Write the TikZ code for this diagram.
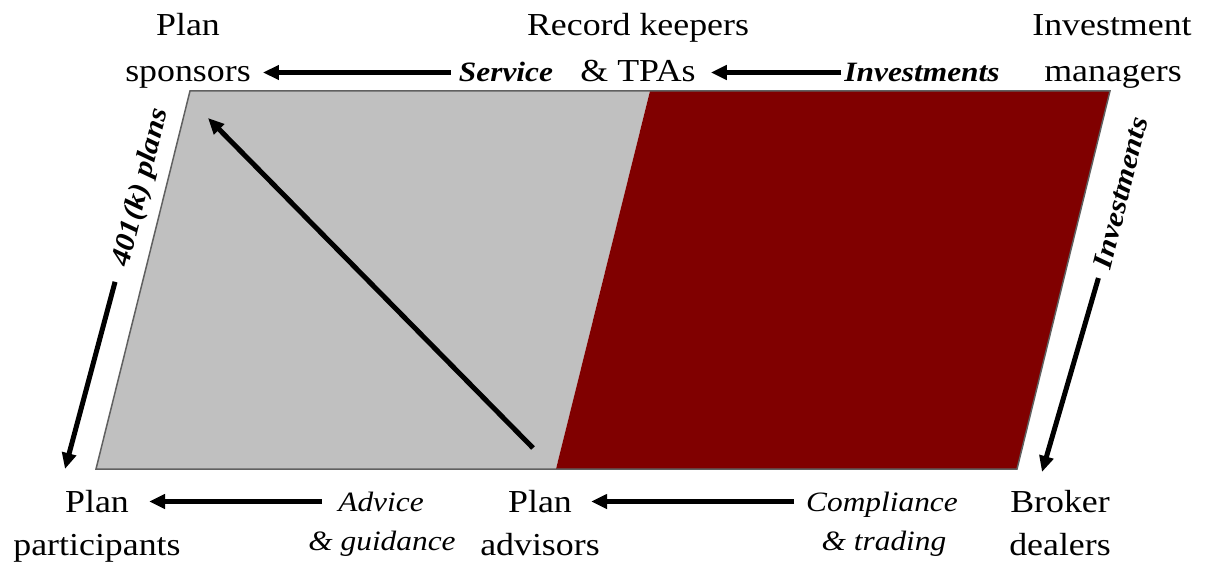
\documentclass[tikz,border=0pt]{standalone}
\usepackage{fontspec}
\setmainfont{Liberation Serif}[FakeStretch=1.12]
\usetikzlibrary{arrows.meta}
\definecolor{plangray}{HTML}{C0C0C0}
\definecolor{mgrred}{HTML}{800000}
\definecolor{edgegray}{HTML}{606060}

\begin{document}
\begin{tikzpicture}[x=1pt, y=-1pt,
  party/.style={anchor=base, inner sep=0pt, font=\fontsize{32}{38}\selectfont},
  flow/.style={anchor=base, inner sep=0pt, text height=19pt, text depth=0pt,
    font=\fontsize{28}{33}\selectfont\itshape},
  flowb/.style={flow, font=\fontsize{28}{33}\selectfont\bfseries\itshape},
  arr/.style={-{Triangle[length=16pt,width=14pt]}, line width=5pt}
]
  \useasboundingbox (0,0) rectangle (1207,567);

  % the two halves of the parallelogram
  \coordinate (tl) at (190,91);
  \coordinate (tm) at (650,91);
  \coordinate (tr) at (1110,91);
  \coordinate (br) at (1017,469);
  \coordinate (bm) at (556,469);
  \coordinate (bl) at (96,469);
  \fill[plangray] (tl) -- (tm) -- (bm) -- (bl) -- cycle;
  \fill[mgrred] (tm) -- (tr) -- (br) -- (bm) -- cycle;
  \draw[edgegray, line width=1.5pt] (tl) -- (tr) -- (br) -- (bl) -- cycle;

  % parties
  \node[party] (spA) at (188,36) {Plan};
  \node[party] (sp) at (188,82) {sponsors};
  \node[party] (rkA) at (638,36) {Record keepers};
  \node[party] (rk) at (638,82) {\& TPAs};
  \node[party] (imA) at (1112,36) {Investment};
  \node[party] (im) at (1113,82) {managers};
  \node[party] (ppA) at (97,512) {Plan};
  \node[party] (pp) at (97,555) {participants};
  \node[party] (paA) at (540,512) {Plan};
  \node[party] (pa) at (540,555) {advisors};
  \node[party] (bdA) at (1060,512) {Broker};
  \node[party] (bd) at (1060,555) {dealers};

  % flow labels
  \node[flowb] (service) at (506,82) {Service};
  \node[flowb] (invtop) at (922,82) {Investments};
  \node[flow] (advice) at (381,511) {Advice};
  \node[flow] (guid) at (382,550) {\& guidance};
  \node[flow] (compl) at (882,511) {Compliance};
  \node[flow] (trad) at (884,550) {\& trading};
  \node[flowb, anchor=center, rotate=76] (plans) at (139,187) {401(k) plans};
  \node[flowb, anchor=center, rotate=76] (invside) at (1120,193) {Investments};

  \coordinate (ppTip) at (65,469);
  \coordinate (bdTip) at (1042,472);
  \coordinate (dgTail) at (533,448);
  \coordinate (dgHead) at (208,118);

  \draw[arr] ([xshift=-8pt]service.west) -- ([xshift=12pt]service.west -| sp.east);
  \draw[arr] ([xshift=-3pt]invtop.west) -- ([xshift=15pt]invtop.west -| rk.east);
  \draw[arr] ([xshift=-16pt]advice.west) -- ([xshift=20pt]advice.west -| ppA.east);
  \draw[arr] ([xshift=-12pt]compl.west) -- ([xshift=19pt]compl.west -| paA.east);
  \draw[arr, shorten <=17pt] (plans.west) -- (ppTip);
  \draw[arr, shorten <=10pt] (invside.west) -- (bdTip);
  \draw[arr] (dgTail) -- (dgHead);
\end{tikzpicture}
\end{document}
